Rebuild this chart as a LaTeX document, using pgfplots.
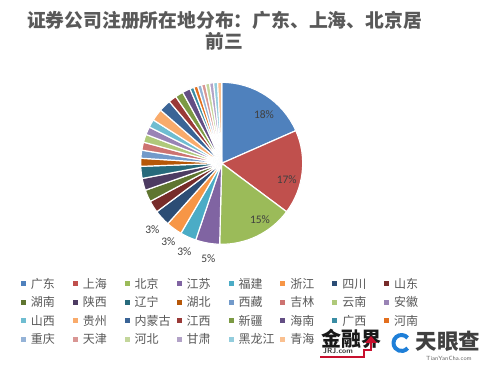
\documentclass[border=0pt]{standalone}
\usepackage{pgfplots}
\pgfplotsset{compat=1.18}
\usepackage{pgfplotstable}
\usepackage{fontspec}
\newfontfamily\cjk{Noto Sans CJK SC}
\newfontfamily\lbl{Carlito}
\definecolor{c1}{HTML}{4F81BD}
\definecolor{c2}{HTML}{C0504D}
\definecolor{c3}{HTML}{9BBB59}
\definecolor{c4}{HTML}{8064A2}
\definecolor{c5}{HTML}{4BACC6}
\definecolor{c6}{HTML}{F79646}
\definecolor{c7}{HTML}{2C4D75}
\definecolor{c8}{HTML}{772C2A}
\definecolor{c9}{HTML}{5F7530}
\definecolor{c10}{HTML}{4D3B62}
\definecolor{c11}{HTML}{276A7C}
\definecolor{c12}{HTML}{B65708}
\definecolor{c13}{HTML}{729ACA}
\definecolor{c14}{HTML}{CD7371}
\definecolor{c15}{HTML}{AFC97A}
\definecolor{c16}{HTML}{9983B5}
\definecolor{c17}{HTML}{6FBDD1}
\definecolor{c18}{HTML}{F9AB6B}
\definecolor{c19}{HTML}{3A6496}
\definecolor{c20}{HTML}{9A3A38}
\definecolor{c21}{HTML}{7C9A44}
\definecolor{c22}{HTML}{634E84}
\definecolor{c23}{HTML}{3A8DA4}
\definecolor{c24}{HTML}{E36F1E}
\definecolor{c25}{HTML}{95B3D7}
\definecolor{c26}{HTML}{D99694}
\definecolor{c27}{HTML}{C3D69B}
\definecolor{c28}{HTML}{B2A2C7}
\definecolor{c29}{HTML}{93CDDD}
\definecolor{c30}{HTML}{FAC090}
\definecolor{tgray}{HTML}{595959}
\definecolor{lgray}{HTML}{404040}
\definecolor{jrjred}{HTML}{C8102E}
\definecolor{tyblue}{HTML}{1E7FD8}

\pgfplotstableread{
name value col
广东 23 c1
上海 21 c2
北京 19 c3
江苏 6 c4
福建 4 c5
浙江 4 c6
四川 4 c7
山东 3 c8
湖南 3 c9
陕西 3 c10
辽宁 3 c11
湖北 2 c12
西藏 2 c13
吉林 2 c14
云南 2 c15
安徽 2 c16
山西 2 c17
贵州 3 c18
内蒙古 3 c19
江西 2 c20
新疆 2 c21
海南 2 c22
广西 1 c23
河南 1 c24
重庆 1 c25
天津 1 c26
河北 1 c27
甘肃 1 c28
黑龙江 1 c29
青海 1 c30
}\piedata

\begin{document}
\begin{tikzpicture}
\fill[white] (0,0) rectangle (493bp,371bp);
\path[use as bounding box] (0,0) rectangle (493bp,371bp);
\begin{axis}[
  at={(0,0)}, anchor=south west,
  x=1bp, y=1bp, xmin=0, xmax=493, ymin=0, ymax=371,
  hide axis, clip=false,
  legend columns=8,
  legend cell align=left,
  legend image code/.code={\fill[#1, draw=none] (0bp,-1.5bp) rectangle (5bp,3.5bp);},
  legend style={
    at={(0.04199,0.24825)}, anchor=north west,
    draw=none, fill=none, inner xsep=0pt, inner ysep=0pt,
    font=\cjk\fontsize{12bp}{13bp}\selectfont, text=tgray,
    row sep=7bp,
    nodes={inner sep=0pt, text height=9bp, text depth=2.5bp, text width=41.9bp, align=left},
    /tikz/every odd column/.append style={column sep=5bp},
    /tikz/every even column/.append style={column sep=0bp},
  },
]
\pgfplotsextra{
  \pgfplotstablegetrowsof{\piedata}
  \pgfmathtruncatemacro{\lastrow}{\pgfplotsretval-1}
  \gdef\pietotal{0}
  \foreach \i in {0,...,\lastrow}{
    \pgfplotstablegetelem{\i}{value}\of{\piedata}
    \pgfmathsetmacro{\newtot}{\pietotal+\pgfplotsretval}
    \global\let\pietotal\newtot
  }
  \gdef\piecum{0}
  \foreach \i in {0,...,\lastrow}{
    \pgfplotstablegetelem{\i}{value}\of{\piedata}
    \let\val\pgfplotsretval
    \pgfplotstablegetelem{\i}{col}\of{\piedata}
    \let\col\pgfplotsretval
    \pgfmathsetmacro{\sa}{90-(\piecum/\pietotal)*360}
    \pgfmathsetmacro{\ea}{90-((\piecum+\val)/\pietotal)*360}
    \filldraw[fill=\col, draw=white, line width=1.2bp, line join=round]
      (axis cs:221.7,207.7) -- ++(\sa:81bp) arc[start angle=\sa, end angle=\ea, radius=81bp] -- cycle;
    \pgfmathsetmacro{\newcum}{\piecum+\val}
    \global\let\piecum\newcum
  }
}
\addlegendimage{fill=c1}\addlegendentry{广东}
\addlegendimage{fill=c2}\addlegendentry{上海}
\addlegendimage{fill=c3}\addlegendentry{北京}
\addlegendimage{fill=c4}\addlegendentry{江苏}
\addlegendimage{fill=c5}\addlegendentry{福建}
\addlegendimage{fill=c6}\addlegendentry{浙江}
\addlegendimage{fill=c7}\addlegendentry{四川}
\addlegendimage{fill=c8}\addlegendentry{山东}
\addlegendimage{fill=c9}\addlegendentry{湖南}
\addlegendimage{fill=c10}\addlegendentry{陕西}
\addlegendimage{fill=c11}\addlegendentry{辽宁}
\addlegendimage{fill=c12}\addlegendentry{湖北}
\addlegendimage{fill=c13}\addlegendentry{西藏}
\addlegendimage{fill=c14}\addlegendentry{吉林}
\addlegendimage{fill=c15}\addlegendentry{云南}
\addlegendimage{fill=c16}\addlegendentry{安徽}
\addlegendimage{fill=c17}\addlegendentry{山西}
\addlegendimage{fill=c18}\addlegendentry{贵州}
\addlegendimage{fill=c19}\addlegendentry{内蒙古}
\addlegendimage{fill=c20}\addlegendentry{江西}
\addlegendimage{fill=c21}\addlegendentry{新疆}
\addlegendimage{fill=c22}\addlegendentry{海南}
\addlegendimage{fill=c23}\addlegendentry{广西}
\addlegendimage{fill=c24}\addlegendentry{河南}
\addlegendimage{fill=c25}\addlegendentry{重庆}
\addlegendimage{fill=c26}\addlegendentry{天津}
\addlegendimage{fill=c27}\addlegendentry{河北}
\addlegendimage{fill=c28}\addlegendentry{甘肃}
\addlegendimage{fill=c29}\addlegendentry{黑龙江}
\addlegendimage{fill=c30}\addlegendentry{青海}

% title
\node[anchor=base, font=\cjk\bfseries\fontsize{18.8bp}{22bp}\selectfont, text=tgray, inner sep=0pt]
  at (axis cs:224.5,343.9) {证券公司注册所在地分布：广东、上海、北京居};
\node[anchor=base, font=\cjk\bfseries\fontsize{18.8bp}{22bp}\selectfont, text=tgray, inner sep=0pt]
  at (axis cs:224.5,322.2) {前三};

% data labels
\begin{scope}[every node/.style={font=\lbl\fontsize{11.5bp}{13bp}\selectfont, text=lgray, inner sep=0pt}]
\node at (axis cs:264,256.7) {18\%};
\node at (axis cs:286.7,191.7) {17\%};
\node at (axis cs:260,151) {15\%};
\node at (axis cs:208.3,112.7) {5\%};
\node at (axis cs:184.3,119.3) {3\%};
\node at (axis cs:168.3,129.3) {3\%};
\node at (axis cs:152.3,141) {3\%};
\end{scope}

% watermarks
\node[anchor=base, font=\cjk\bfseries\fontsize{20bp}{20bp}\selectfont, text=black!90, inner sep=0pt]
  at (axis cs:351.5,24.6) {金融界};
\node[font=\sffamily\bfseries\fontsize{7.5bp}{8bp}\selectfont, text=black!80, inner sep=0pt]
  at (axis cs:338,20) {JRJ.com};
\draw[jrjred, line width=2.2bp] (axis cs:320,14) -- (axis cs:364,14) -- (axis cs:364,21) -- (axis cs:371,21) -- (axis cs:371,28);
\fill[jrjred] (axis cs:365,28) -- (axis cs:377,28) -- (axis cs:371,35) -- cycle;
\draw[tyblue, line width=4bp] (axis cs:401.5,28) ++(40:8bp) arc[start angle=40, end angle=320, radius=8bp];
\node[anchor=base, font=\cjk\bfseries\fontsize{21.5bp}{22bp}\selectfont, text=black!75, inner sep=0pt]
  at (axis cs:448,21.3) {天眼查};
\node[font=\sffamily\fontsize{6bp}{6bp}\selectfont, text=black!60, inner sep=0pt]
  at (axis cs:449,13) {TianYanCha.com};
\end{axis}
\end{tikzpicture}
\end{document}
